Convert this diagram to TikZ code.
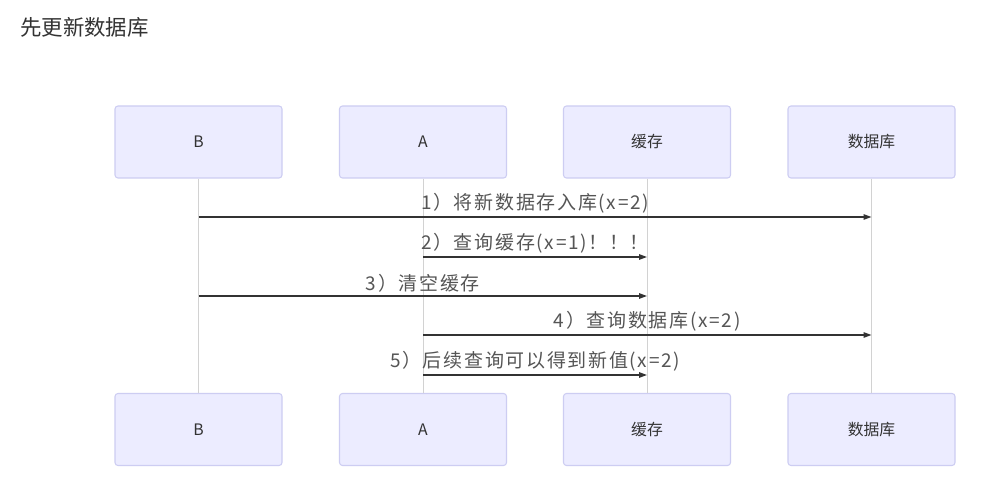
\documentclass[tikz,border=0pt]{standalone}
\usepackage{fontspec}
\setmainfont{Noto Sans CJK SC}
\newfontfamily\msgfont[LetterSpace=9]{Noto Sans CJK SC}
\usetikzlibrary{arrows.meta}
\definecolor{boxfill}{HTML}{ECECFF}
\definecolor{boxline}{HTML}{CDCDF2}
\definecolor{lifeline}{HTML}{D2D2D2}
\definecolor{msgline}{HTML}{333333}
\definecolor{msgtext}{HTML}{555555}
\begin{document}
\begin{tikzpicture}[x=0.2mm, y=-0.2mm,
  actor/.style={draw=boxline, fill=boxfill, rounded corners=1.7pt, line width=0.6pt,
    minimum width=33.4mm, minimum height=14.4mm, inner sep=0pt, font=\fontsize{9}{10}\selectfont, text=black!80},
  life/.style={draw=lifeline, line width=0.5pt},
  msg/.style={draw=msgline, line width=0.8pt, -{Triangle[length=1.6mm, width=1.1mm]}},
  msglabel/.style={font=\msgfont\fontsize{10.8}{12}\selectfont, text=msgtext, inner sep=1.5pt}]

  % canvas
  \useasboundingbox[fill=white] (0,0) rectangle (986,486);
  \node[font=\fontsize{12.2}{14}\selectfont, text=black!80, anchor=west] (title) at (14,27) {先更新数据库};

  % participants, top row
  \node[actor] (tB) at (198.5,142) {B};
  \node[actor] (tA) at (423,142) {A};
  \node[actor] (tC) at (647,142) {缓存};
  \node[actor] (tD) at (871.5,142) {数据库};

  % participants, bottom row
  \node[actor] (bB) at (198.5,429.5) {B};
  \node[actor] (bA) at (423,429.5) {A};
  \node[actor] (bC) at (647,429.5) {缓存};
  \node[actor] (bD) at (871.5,429.5) {数据库};

  % lifelines
  \draw[life] (tB) -- (bB);
  \draw[life] (tA) -- (bA);
  \draw[life] (tC) -- (bC);
  \draw[life] (tD) -- (bD);

  % message rows
  \coordinate (m1) at (0,217);
  \coordinate (m2) at (0,257);
  \coordinate (m3) at (0,296);
  \coordinate (m4) at (0,335);
  \coordinate (m5) at (0,375);

  % messages
  \draw[msg] (tB |- m1) -- (tD |- m1) node[msglabel, midway, above] {1）将新数据存入库(x=2)};
  \draw[msg] (tA |- m2) -- (tC |- m2) node[msglabel, midway, above] {2）查询缓存(x=1)！！！};
  \draw[msg] (tB |- m3) -- (tC |- m3) node[msglabel, midway, above] {3）清空缓存};
  \draw[msg] (tA |- m4) -- (tD |- m4) node[msglabel, midway, above] {4）查询数据库(x=2)};
  \draw[msg] (tA |- m5) -- (tC |- m5) node[msglabel, midway, above] {5）后续查询可以得到新值(x=2)};

\end{tikzpicture}
\end{document}
